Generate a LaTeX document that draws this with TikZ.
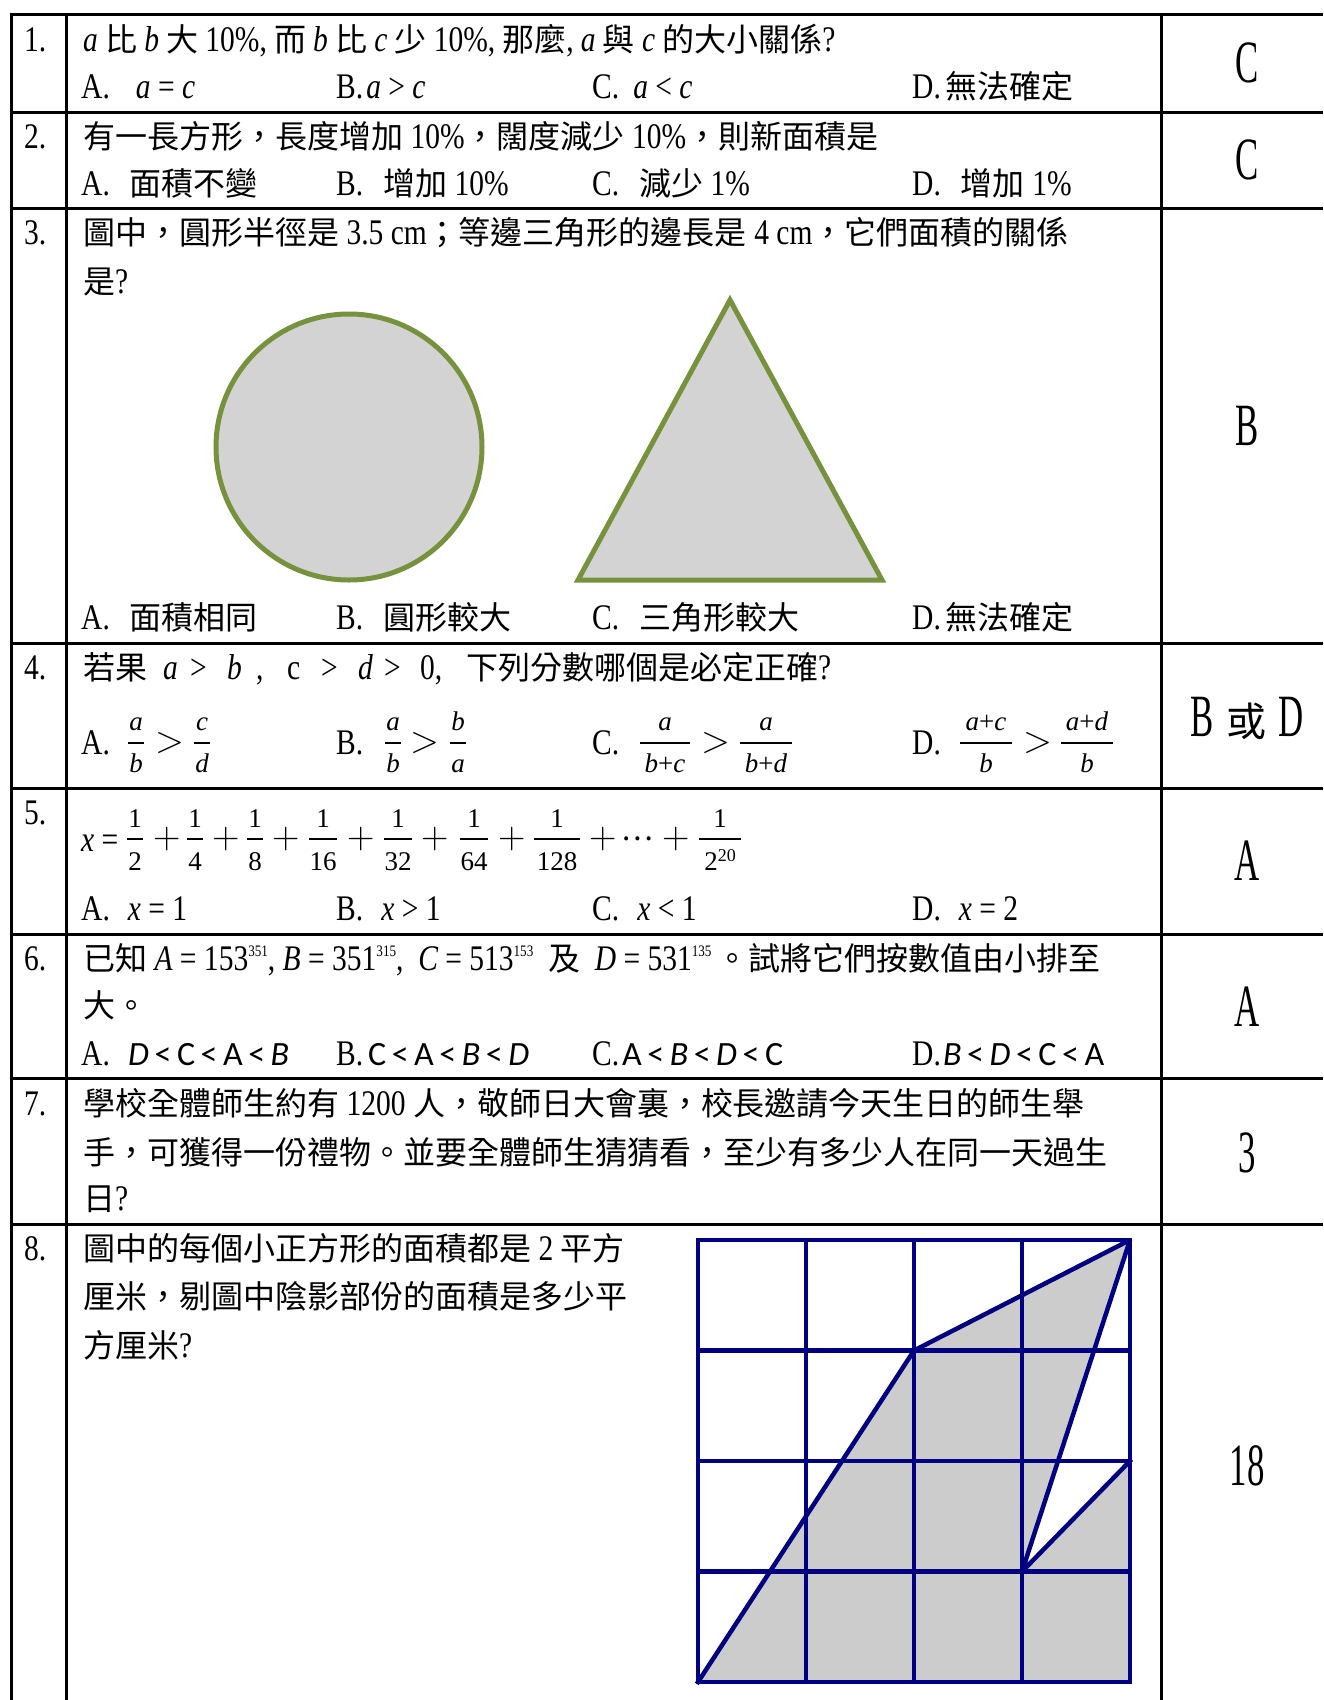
\documentclass[tikz,border=0pt]{standalone}
\usepackage{fontspec}
\newfontfamily\cjkf{Noto Sans CJK TC}
\newfontfamily\latf[FakeStretch=0.82]{Liberation Serif}
\newfontfamily\ansf[FakeStretch=0.58]{Liberation Serif}
\newfontfamily\frf{Liberation Serif}
\newfontfamily\carf{Carlito}
\newcommand\Lt[1]{{\latf\fontsize{36}{38}\selectfont #1}}
\newcommand\Li[1]{{\latf\itshape\fontsize{36}{38}\selectfont #1}}
\newcommand\supx[1]{\raisebox{14pt}{\latf\fontsize{16}{16}\selectfont #1}}
\newcommand\ks{\hspace{5.5pt}}
\definecolor{navyb}{HTML}{000080}
\definecolor{olivg}{HTML}{76923C}
\definecolor{areagray}{HTML}{CCCCCC}
\definecolor{shapefill}{HTML}{D3D3D3}
\newcommand\Fr[5]{%
  \draw[fbar] ({#1-#3},#2) -- ({#1+#3},#2);
  \node[fr] at (#1,{#2-13}) {#4};
  \node[fr] at (#1,{#2+29}) {#5};}
\newcommand\Fn[5]{%
  \draw[fbar] ({#1-#3},#2) -- ({#1+#3},#2);
  \node[fn] at (#1,{#2-12}) {#4};
  \node[fn] at (#1,{#2+31}) {#5};}
\begin{document}
\begin{tikzpicture}[x=1pt,y=-1pt,
  tline/.style={line width=3pt,black},
  txt/.style={font=\cjkf\fontsize{32}{36}\selectfont,inner sep=0pt,anchor=base west},
  ans/.style={font=\ansf\fontsize{60}{60}\selectfont,inner sep=0pt,anchor=base},
  fr/.style={font=\frf\itshape\fontsize{27}{27}\selectfont,inner sep=0pt,anchor=base},
  fn/.style={font=\frf\fontsize{27}{27}\selectfont,inner sep=0pt,anchor=base},
  fbar/.style={line width=1.6pt,black},
  bigop/.style={font=\rmfamily\fontsize{38}{38}\selectfont,inner sep=0pt},
  gridline/.style={line width=4.5pt,navyb,line cap=rect},
  optc/.style={font=\carf\fontsize{34}{34}\selectfont,inner sep=0pt,anchor=base west}]
\useasboundingbox (0,0) rectangle (1323,1700);
\clip (0,0) rectangle (1323,1700);
\fill[white] (0,0) rectangle (1323,1700);

% ---- table rules
\foreach \yy in {14,112,208.5,643,788,934,1078,1224}
  \draw[tline] (9.5,\yy) -- (1323,\yy);
\draw[tline] (11,12.5) -- (11,1700);
\draw[tline] (66,12.5) -- (66,1700);
\draw[tline] (1161,12.5) -- (1161,1700);

% ---- row numbers
\node[txt] (n1) at (24,51.5) {\Lt{1.}};
\node[txt] (n2) at (24,148.5) {\Lt{2.}};
\node[txt] (n3) at (24,244.5) {\Lt{3.}};
\node[txt] (n4) at (24,679.5) {\Lt{4.}};
\node[txt] (n5) at (24,824.5) {\Lt{5.}};
\node[txt] (n6) at (24,970.5) {\Lt{6.}};
\node[txt] (n7) at (24,1115.5) {\Lt{7.}};
\node[txt] (n8) at (24,1260.5) {\Lt{8.}};

% ---- answers
\node[ans] (a1) at (1247,82) {C};
\node[ans] (a2) at (1247,179) {C};
\node[ans] (a3) at (1247,445) {B};
\node[ans] (a4) at (1247,736) {B\hspace{12pt}{\cjkf\fontsize{40}{40}\selectfont 或}\hspace{12pt}D};
\node[ans] (a5) at (1247,880) {A};
\node[ans] (a6) at (1247,1026) {A};
\node[ans] (a7) at (1247,1172) {3};
\node[ans] (a8) at (1247,1485) {18};

% ---- Q1
\node[txt] (q1) at (83,51.5) {\Li{a} 比 \Li{b} 大 \Lt{10\%,} 而 \Li{b} 比 \Li{c} 少 \Lt{10\%,} 那麼\Lt{,} \Li{a} 與 \Li{c} 的大小關係\Lt{?}};
\node[txt] (q1a) at (81,98.5) {\Lt{A.}\hspace{26pt}\Li{a}\Lt{ = }\Li{c}};
\node[txt] (q1b) at (336,98.5) {\Lt{B.}\hspace{3pt}\Li{a}\Lt{ > }\Li{c}};
\node[txt] (q1c) at (592,98.5) {\Lt{C.}\hspace{14pt}\Li{a}\Lt{ < }\Li{c}};
\node[txt] (q1d) at (912,98.5) {\Lt{D.}\hspace{5pt}無法確定};

% ---- Q2
\node[txt] (q2) at (83,148.5) {有一長方形，長度增加\Lt{ 10\%}，闊度減少\Lt{ 10\%}，則新面積是};
\node[txt] (q2a) at (81,195.5) {\Lt{A.}\hspace{20pt}面積不變};
\node[txt] (q2b) at (336,195.5) {\Lt{B.}\hspace{20pt}增加\Lt{ 10\%}};
\node[txt] (q2c) at (592,195.5) {\Lt{C.}\hspace{20pt}減少\Lt{ 1\%}};
\node[txt] (q2d) at (912,195.5) {\Lt{D.}\hspace{20pt}增加\Lt{ 1\%}};

% ---- Q3
\node[txt] (q3) at (83,244.5) {圖中，圓形半徑是\Lt{ 3.5 cm}；等邊三角形的邊長是\Lt{ 4 cm}，它們面積的關係};
\node[txt] (q3l2) at (83,293.5) {是\Lt{?}};
\draw[line width=5pt,olivg,fill=shapefill] (349,447) circle (133);
\draw[line width=5pt,olivg,fill=shapefill,line join=miter] (730,300) -- (882,580) -- (578,580) -- cycle;
\node[txt] (q3a) at (81,629.5) {\Lt{A.}\hspace{20pt}面積相同};
\node[txt] (q3b) at (336,629.5) {\Lt{B.}\hspace{20pt}圓形較大};
\node[txt] (q3c) at (592,629.5) {\Lt{C.}\hspace{20pt}三角形較大};
\node[txt] (q3d) at (912,629.5) {\Lt{D.}\hspace{5pt}無法確定};

% ---- Q4
\node[txt] (q4) at (83,679.5) {若果};
\node[txt] (q4s1) at (163,679.5) {\Li{a}};
\node[txt] (q4s2) at (190,679.5) {\Lt{>}};
\node[txt] (q4s3) at (227,679.5) {\Li{b}};
\node[txt] (q4s4) at (256,679.5) {\Lt{,}};
\node[txt] (q4s5) at (287,679.5) {\Lt{c}};
\node[txt] (q4s6) at (321,679.5) {\Lt{>}};
\node[txt] (q4s7) at (358,679.5) {\Li{d}};
\node[txt] (q4s8) at (384,679.5) {\Lt{>}};
\node[txt] (q4s9) at (420,679.5) {\Lt{0,}};
\node[txt] (q4t) at (466,679.5) {下列分數哪個是必定正確\Lt{?}};
\node[txt] (q4a) at (81,754) {\Lt{A.}};
\Fr{136}{743}{8}{a}{b}
\node[bigop] (g4a) at (170,743) {>};
\Fr{202}{743}{8}{c}{d}
\node[txt] (q4b) at (336,754) {\Lt{B.}};
\Fr{393}{743}{8}{a}{b}
\node[bigop] (g4b) at (425,743) {>};
\Fr{458}{743}{8}{b}{a}
\node[txt] (q4c) at (592,754) {\Lt{C.}};
\Fr{665}{743}{25}{a}{b\upshape{+}\itshape c}
\node[bigop] (g4c) at (716,743) {>};
\Fr{766}{743}{26}{a}{b\upshape{+}\itshape d}
\node[txt] (q4d) at (912,754) {\Lt{D.}};
\Fr{986}{743}{26}{a\upshape{+}\itshape c}{b}
\node[bigop] (g4d) at (1038,743) {>};
\Fr{1087}{743}{26}{a\upshape{+}\itshape d}{b}

% ---- Q5
\node[txt] (q5x) at (81,851) {\Li{x}\Lt{ =}};
\Fn{135}{839}{8}{1}{2}
\node[bigop] (p1) at (167,839) {+};
\Fn{195}{839}{8}{1}{4}
\node[bigop] (p2) at (226,839) {+};
\Fn{255}{839}{8}{1}{8}
\node[bigop] (p3) at (286,839) {+};
\Fn{323}{839}{14}{1}{16}
\node[bigop] (p4) at (361,839) {+};
\Fn{398}{839}{14}{1}{32}
\node[bigop] (p5) at (435,839) {+};
\Fn{474}{839}{14}{1}{64}
\node[bigop] (p6) at (512,839) {+};
\Fn{557}{839}{23}{1}{128}
\node[bigop] (p7) at (603,839) {+};
\node[inner sep=0pt,font=\cjkf\fontsize{30}{30}\selectfont] (dots) at (637,839) {⋯};
\node[bigop] (p8) at (676,839) {+};
\Fn{720}{839}{21}{1}{2\raisebox{9pt}{\fontsize{18}{18}\selectfont 20}}
\node[txt] (q5a) at (81,920.5) {\Lt{A.}\hspace{18pt}\Li{x}\Lt{ = 1}};
\node[txt] (q5b) at (336,920.5) {\Lt{B.}\hspace{18pt}\Li{x}\Lt{ > 1}};
\node[txt] (q5c) at (592,920.5) {\Lt{C.}\hspace{18pt}\Li{x}\Lt{ < 1}};
\node[txt] (q5d) at (912,920.5) {\Lt{D.}\hspace{18pt}\Li{x}\Lt{ = 2}};

% ---- Q6
\node[txt] (q6) at (83,970.5) {已知\Lt{ }\Li{A}\Lt{ = 153}\supx{351}\Lt{, }\Li{B}\Lt{ = 351}\supx{315}\Lt{,\ \ }\Li{C}\Lt{ = 513}\supx{153}\Lt{\ \ }及\Lt{\ \ }\Li{D}\Lt{ = 531}\supx{135}\,。試將它們按數值由小排至};
\node[txt] (q6l2) at (83,1017.5) {大。};
\node[txt] (q6a) at (81,1065.5) {\Lt{A.}};
\node[optc] (q6ao) at (128,1065.5) {\itshape D\ks\upshape <\ks C\ks<\ks A\ks<\ks\itshape B};
\node[txt] (q6b) at (336,1065.5) {\Lt{B.}};
\node[optc] (q6bo) at (368,1065.5) {C\ks<\ks A\ks<\ks\itshape B\ks\upshape <\ks\itshape D};
\node[txt] (q6c) at (592,1065.5) {\Lt{C.}};
\node[optc] (q6co) at (622,1065.5) {A\ks<\ks\itshape B\ks\upshape <\ks\itshape D\ks\upshape <\ks C};
\node[txt] (q6d) at (912,1065.5) {\Lt{D.}};
\node[optc] (q6do) at (943,1065.5) {\itshape B\ks\upshape <\ks\itshape D\ks\upshape <\ks C\ks<\ks A};

% ---- Q7
\node[txt] (q7) at (83,1115.5) {學校全體師生約有\Lt{ 1200 }人，敬師日大會裏，校長邀請今天生日的師生舉};
\node[txt] (q7l2) at (83,1164.5) {手，可獲得一份禮物。並要全體師生猜猜看，至少有多少人在同一天過生};
\node[txt] (q7l3) at (83,1210.5) {日\Lt{?}};

% ---- Q8
\node[txt] (q8) at (83,1260.5) {圖中的每個小正方形的面積都是\Lt{ 2 }平方};
\node[txt] (q8l2) at (83,1308.5) {厘米，剔圖中陰影部份的面積是多少平};
\node[txt] (q8l3) at (83,1357.5) {方厘米\Lt{?}};

\begin{scope}[shift={(698,1682)},x=108pt,y=110.5pt]
  \fill[areagray] (0,0) -- (2,3) -- (4,4) -- (3,1) -- (4,2) -- (4,0) -- cycle;
  \foreach \i in {0,...,4} {
    \draw[gridline] (\i,0) -- (\i,4);
  }
  \foreach \j in {0,...,4} {
    \draw[gridline] (0,\j) -- (4,\j);
  }
  \draw[gridline,line join=round] (0,0) -- (2,3) -- (4,4) -- (3,1) -- (4,2);
\end{scope}
\end{tikzpicture}
\end{document}
